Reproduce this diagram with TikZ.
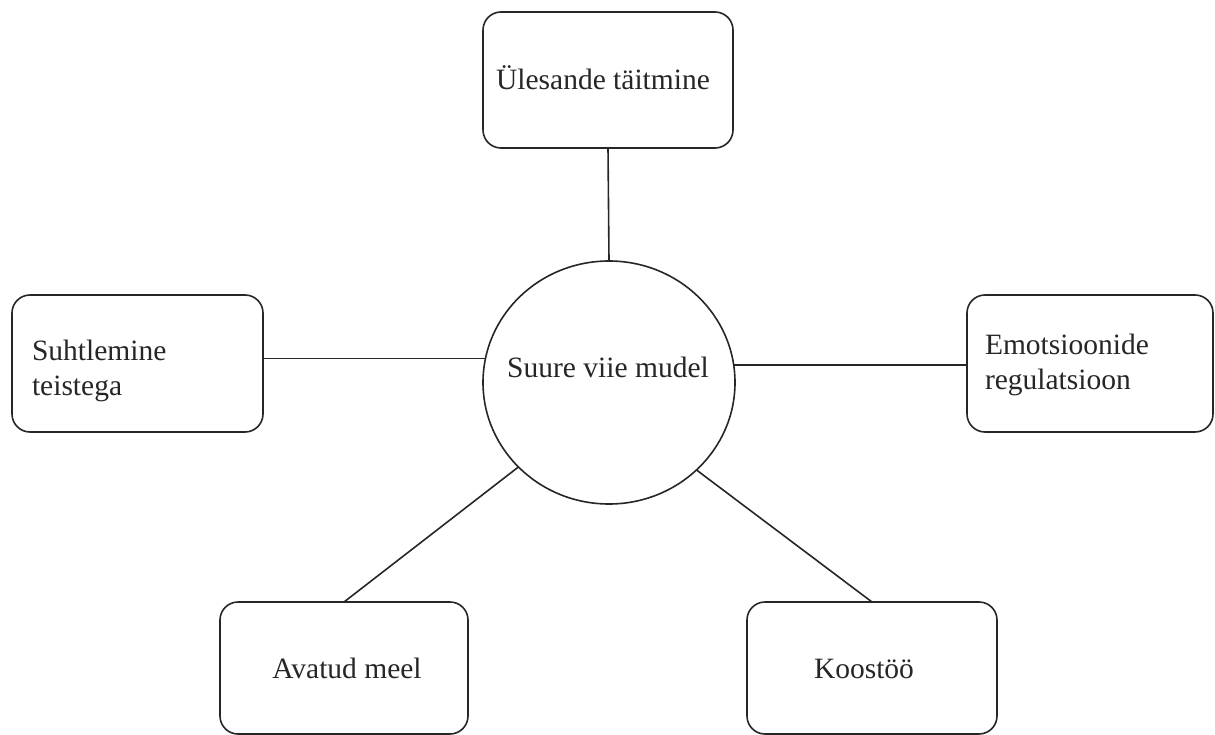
\documentclass[tikz,border=0pt]{standalone}
\usepackage{fontspec}
\setmainfont{Liberation Serif}
\usetikzlibrary{shapes.geometric}
\begin{document}
\begin{tikzpicture}[x=1pt,y=-1pt,
  every node/.style={inner sep=0pt, outer sep=0pt},
  box/.style={draw=black!85, line width=1.6pt, rounded corners=18pt, rectangle},
  hub/.style={draw=black!85, line width=1.6pt, ellipse, minimum width=252pt, minimum height=243pt},
  lbl/.style={font=\fontsize{29.5}{35}\selectfont, text=black!85},
  link/.style={draw=black!85, line width=1.6pt}]
\useasboundingbox (0,0) rectangle (1215,735);
% boxes
\node[box, minimum width=250pt, minimum height=136pt] (top) at (608,80) {};
\node[box, minimum width=251pt, minimum height=137pt] (lbox) at (137.5,363.5) {};
\node[box, minimum width=246pt, minimum height=137pt] (rbox) at (1090,363.5) {};
\node[box, minimum width=248pt, minimum height=132pt] (blbox) at (344,668) {};
\node[box, minimum width=250pt, minimum height=132pt] (brbox) at (872,668) {};
\node[hub] (circ) at (609,382.5) {};
% texts
\node[lbl, anchor=base] (ttop) at (603,90) {Ülesande täitmine};
\node[lbl, anchor=west, align=left] (tl) at (32,370.7) {Suhtlemine\\teistega};
\node[lbl, anchor=west, align=left] (tr) at (985,364.7) {Emotsioonide\\regulatsioon};
\node[lbl, anchor=base] (tbl) at (347,678) {Avatud meel};
\node[lbl, anchor=base] (tbr) at (864,678) {Koostöö};
\node[lbl, anchor=base] (tc) at (608,377) {Suure viie mudel};
% connectors
\draw[link] (top.south) -- (circ.north);
\draw[link] (circ.169.3) -- (circ.169.3 -| lbox.east);
\draw[link] (circ.8.9) -- (circ.8.9 -| rbox.west);
\draw[link] (circ.223.2) -- (blbox.north);
\draw[link] (circ.315.8) -- (brbox.north);
\end{tikzpicture}
\end{document}
